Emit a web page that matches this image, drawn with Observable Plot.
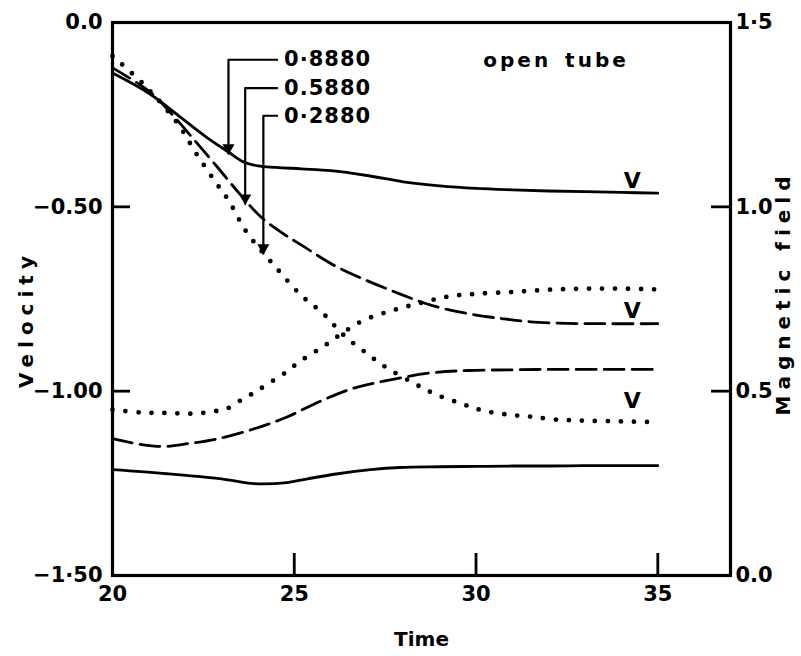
<!DOCTYPE html>
<html><head><meta charset="utf-8">
<script src="https://cdn.jsdelivr.net/npm/d3@7"></script>
<script src="https://cdn.jsdelivr.net/npm/@observablehq/plot@0.6"></script>
<style>body{margin:0;background:#fff;} #chart svg{display:block;} #chart svg text{font-weight:700;}</style>
</head><body><div id="chart"></div>
<script>
// ---- Velocity curves (left axis) ----
const timeV888 = [20, 21, 22, 22.6, 23.2, 23.6, 24.0, 24.5, 25.2, 26, 27, 28, 29, 30, 31, 32, 33, 34, 35];
const velV888  = [-0.137, -0.192, -0.267, -0.312, -0.352, -0.378, -0.389, -0.393, -0.397, -0.402, -0.415, -0.432, -0.443, -0.450, -0.454, -0.457, -0.459, -0.461, -0.463];

const timeV588 = [20, 21, 21.6, 22.2, 22.9, 23.5, 24.1, 24.7, 25.2, 26.1, 27, 27.9, 28.8, 29.8, 30.7, 31.5, 32.5, 33.5, 35];
const velV588  = [-0.123, -0.186, -0.245, -0.313, -0.394, -0.465, -0.529, -0.573, -0.604, -0.659, -0.700, -0.736, -0.768, -0.790, -0.803, -0.812, -0.816, -0.817, -0.817];

const timeV288 = [20, 20.9, 21.8, 22.3, 22.8, 23.2, 23.7, 24.5, 25.2, 25.8, 26.35, 27, 27.5, 28.3, 28.9, 29.6, 30.2, 30.9, 31.5, 32.2, 33, 34, 35];
const velV288  = [-0.091, -0.172, -0.275, -0.355, -0.428, -0.484, -0.570, -0.665, -0.741, -0.790, -0.847, -0.898, -0.934, -0.979, -1.009, -1.034, -1.053, -1.064, -1.069, -1.077, -1.080, -1.082, -1.084];

// ---- Magnetic field curves (right axis) ----
const timeB288 = [20, 20.8, 21.5, 22.2, 22.9, 23.2, 23.6, 23.9, 24.2, 24.8, 25.1, 25.44, 25.8, 26.1, 26.5, 26.9, 27.4, 27.8, 28.5, 29.2, 30, 31, 32, 33, 34, 35];
const magB288  = [0.450, 0.442, 0.441, 0.439, 0.447, 0.455, 0.480, 0.496, 0.515, 0.553, 0.577, 0.599, 0.621, 0.642, 0.669, 0.692, 0.710, 0.722, 0.740, 0.756, 0.764, 0.769, 0.775, 0.778, 0.778, 0.776];

const timeB588 = [20, 20.8, 21.4, 22.1, 22.9, 23.9, 24.8, 25.7, 26.6, 27.5, 28.8, 29.8, 31, 32, 33, 34, 35];
const magB588  = [0.371, 0.355, 0.350, 0.358, 0.371, 0.398, 0.430, 0.472, 0.507, 0.528, 0.550, 0.556, 0.558, 0.559, 0.559, 0.559, 0.559];

const timeB888 = [20, 21.5, 23, 23.9, 24.8, 25.4, 26.2, 27.1, 27.9, 29, 30, 31, 32, 33, 34, 35];
const magB888  = [0.287, 0.276, 0.262, 0.249, 0.252, 0.263, 0.276, 0.287, 0.293, 0.295, 0.296, 0.297, 0.297, 0.298, 0.298, 0.298];

// ---- Axes ----
const xTickValues = [20, 25, 30, 35];
const xTickLabels = ["20", "25", "30", "35"];
const leftTickValues = [0, -0.5, -1, -1.5];
const leftTickLabels = ["0.0", "\u22120.50", "\u22121.00", "\u22121\u00b750"];
const rightTickValues = [0, 0.5, 1.0, 1.5];
const rightTickLabels = ["0.0", "0.5", "1.0", "1\u00b75"];

// ---- Annotations ----
const annoLabels = ["0\u00b78880", "0.5880", "0\u00b72880"];
const annoTextTime = [24.72, 24.72, 24.72];
const annoLineStartTime = [24.53, 24.53, 24.53];
const annoVel = [-0.101, -0.178, -0.253];
const annoTurnTime = [23.19, 23.65, 24.15];
const annoTipVel = [-0.356, -0.492, -0.627];
const vLabelTime = [34.3, 34.3, 34.3];
const vLabelVel = [-0.430, -0.782, -1.026];
const titleText = "open tube";
const titleTime = 32.2;
const titleVel = -0.104;

// map magnetic field onto velocity coordinate (right axis 0..1.5 == left axis -1.5..0)
const bShift = -1.5;

function series(ts, vs, shift, style) {
  return ts.map((t, i) => ({t, y: vs[i] + shift, style}));
}
const rows = [
  ...series(timeV888, velV888, 0, "solid"),
  ...series(timeV588, velV588, 0, "dashed"),
  ...series(timeV288, velV288, 0, "dotted"),
  ...series(timeB888, magB888, bShift, "solidB"),
  ...series(timeB588, magB588, bShift, "dashedB"),
  ...series(timeB288, magB288, bShift, "dottedB")
];
const pick = s => rows.filter(d => d.style === s);

const leaders = [];
annoLabels.forEach((lab, i) => {
  leaders.push({id: i, t: annoLineStartTime[i], y: annoVel[i]});
  leaders.push({id: i, t: annoTurnTime[i], y: annoVel[i]});
  leaders.push({id: i, t: annoTurnTime[i], y: annoTipVel[i]});
});
const tips = annoLabels.map((lab, i) => ({t: annoTurnTime[i], y: annoTipVel[i]}));
const annoText = annoLabels.map((lab, i) => ({t: annoTextTime[i], y: annoVel[i], lab}));
const vLabels = vLabelTime.map((t, i) => ({t, y: vLabelVel[i]}));

const lineBase = {x: "t", y: "y", stroke: "black", curve: "catmull-rom"};
const B = {fontWeight: "bold"};

const chart = Plot.plot({
  width: 801, height: 656,
  marginLeft: 112, marginRight: 71, marginTop: 22, marginBottom: 81,
  x: {domain: [20, 37]},
  y: {domain: [-1.5, 0]},
  style: {fontFamily: "'DejaVu Sans', sans-serif", fontSize: "20px", color: "black", background: "white", overflow: "visible"},
  marks: [
    Plot.line(pick("solid"), {...lineBase, strokeWidth: 2.8}),
    Plot.line(pick("dashed"), {...lineBase, strokeWidth: 2.8, strokeDasharray: "20,8"}),
    Plot.line(pick("dotted"), {...lineBase, strokeWidth: 4.8, strokeDasharray: "0,13", strokeLinecap: "round"}),
    Plot.line(pick("solidB"), {...lineBase, strokeWidth: 2.8}),
    Plot.line(pick("dashedB"), {...lineBase, strokeWidth: 2.8, strokeDasharray: "20,8"}),
    Plot.line(pick("dottedB"), {...lineBase, strokeWidth: 4.8, strokeDasharray: "0,13", strokeLinecap: "round"}),
    Plot.line(leaders, {x: "t", y: "y", z: "id", stroke: "black", strokeWidth: 2.2}),
    Plot.dot(tips, {x: "t", y: "y", symbol: "triangle", rotate: 180, r: 4.5, fill: "black", stroke: "none", dy: -6}),
    Plot.text(annoText, {x: "t", y: "y", text: "lab", textAnchor: "start", fontSize: 21, ...B}),
    Plot.text(vLabels, {x: "t", y: "y", text: () => "V", fontSize: 22, ...B}),
    Plot.text([titleText], {x: () => titleTime, y: () => titleVel, fontSize: 20, ...B}),
    Plot.frame({stroke: "black", strokeWidth: 3.2}),
    Plot.axisY(leftTickValues, {anchor: "left", tickSize: 18, dx: 18, tickPadding: 10, strokeWidth: 2.8,
      tickFormat: d => leftTickLabels[leftTickValues.indexOf(d)], fontSize: 21, label: null, ...B}),
    Plot.axisY(rightTickValues.map(v => v + bShift), {anchor: "right", tickSize: 20, dx: -20, tickPadding: 5, strokeWidth: 2.8,
      tickFormat: d => rightTickLabels[rightTickValues.indexOf(Math.round((d - bShift) * 10) / 10)], fontSize: 21, label: null, ...B}),
    Plot.axisX(xTickValues, {anchor: "bottom", tickSize: 22, dy: -22, tickPadding: 11, strokeWidth: 2.8,
      tickFormat: d => xTickLabels[xTickValues.indexOf(d)], fontSize: 21, label: null, ...B}),
    Plot.text(["Time"], {frameAnchor: "bottom", textAnchor: "middle", dy: 70, fontSize: 20, ...B}),
    Plot.text(["Velocity"], {frameAnchor: "left", textAnchor: "middle", rotate: -90, dx: -86, dy: 20, fontSize: 20, ...B}),
    Plot.text(["Magnetic field"], {frameAnchor: "right", textAnchor: "middle", rotate: -90, dx: 53, dy: -6, fontSize: 20, ...B})
  ]
});
document.getElementById("chart").appendChild(chart);
const txt = d3.select(chart).selectAll("text");
const spacing = {"Velocity": "6px", "Magnetic field": "6px", "open tube": "3px"};
txt.each(function() {
  const s = this.textContent;
  if (spacing[s]) d3.select(this).style("letter-spacing", spacing[s]);
  if (annoLabels.includes(s)) d3.select(this).style("letter-spacing", "1px");
  if (s === "open tube") d3.select(this).style("word-spacing", "4px");
});
</script>
</body></html>
